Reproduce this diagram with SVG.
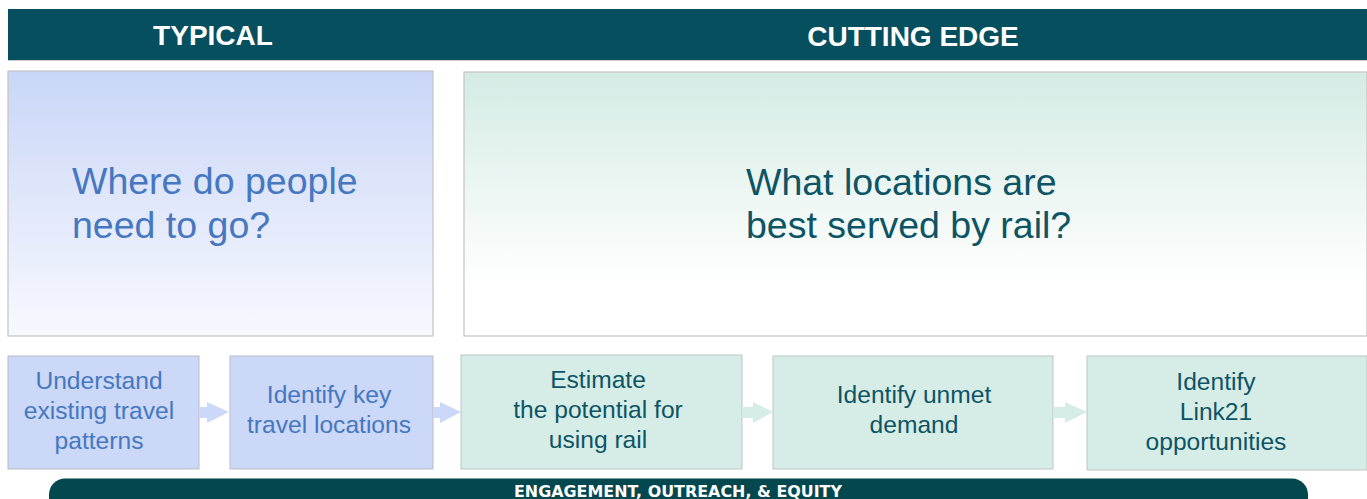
<svg xmlns="http://www.w3.org/2000/svg" width="1367" height="499" viewBox="0 0 1367 499">
<style>
.hdr{fill:#054f5f}
.hdrtxt{font-family:"Liberation Sans",Arial,sans-serif;font-weight:bold;font-size:28px;fill:#ffffff;text-anchor:middle}
.big{stroke:#c4c4c4;stroke-width:1.2}
.q{font-family:"Liberation Sans",Arial,sans-serif;font-size:37.5px}
.qb{fill:#4677c0}
.qt{fill:#0d5464}
.sb{fill:#cbd8f7;stroke:#b8bcc8;stroke-width:1}
.st{fill:#d6ece6;stroke:#bcc8c4;stroke-width:1}
.lbl{font-family:"Liberation Sans",Arial,sans-serif;font-size:24.6px;text-anchor:middle}
.arb{fill:#cbd8f7}
.art{fill:#d6ece6}
.bar{fill:#03474f}
.bartxt{font-family:"DejaVu Sans","Liberation Sans",sans-serif;font-weight:bold;font-size:15px;fill:#ffffff;text-anchor:middle}
</style>
<defs>
<linearGradient id="gb" x1="0" y1="0" x2="0" y2="1">
<stop offset="0" stop-color="#c9d6f7"/>
<stop offset="1" stop-color="#f8f9ff"/>
</linearGradient>
<linearGradient id="gt" x1="0" y1="0" x2="0" y2="1">
<stop offset="0" stop-color="#d4ebe4"/>
<stop offset="0.8" stop-color="#ffffff"/>
<stop offset="1" stop-color="#ffffff"/>
</linearGradient>
</defs>
<rect width="1367" height="499" fill="#ffffff"/>

<g id="header-typical">
<rect class="hdr" x="8" y="9" width="452" height="51"/>
<text class="hdrtxt" x="213" y="45">TYPICAL</text>
</g>
<g id="header-cutting-edge">
<rect class="hdr" x="459" y="9" width="908" height="51"/>
<text class="hdrtxt" x="913" y="46">CUTTING EDGE</text>
</g>
<line x1="8" y1="60.5" x2="1367" y2="60.5" stroke="#c8cccc" stroke-width="1"/>

<g id="question-typical">
<rect class="big" x="8" y="71" width="425" height="265" fill="url(#gb)"/>
<text class="q qb" x="72" y="194">Where do people</text>
<text class="q qb" x="72" y="238">need to go?</text>
</g>
<g id="question-cutting-edge">
<rect class="big" x="464" y="72" width="903" height="264" fill="url(#gt)"/>
<text class="q qt" x="746" y="195">What locations are</text>
<text class="q qt" x="746" y="238">best served by rail?</text>
</g>

<g id="step1">
<rect class="sb" x="8" y="356" width="191" height="113"/>
<text class="lbl qb" x="99" y="389">Understand</text>
<text class="lbl qb" x="99" y="419">existing travel</text>
<text class="lbl qb" x="99" y="449">patterns</text>
</g>
<g id="step2">
<rect class="sb" x="230" y="356" width="203" height="113"/>
<text class="lbl qb" x="329" y="403">Identify key</text>
<text class="lbl qb" x="329" y="433">travel locations</text>
</g>
<g id="step3">
<rect class="st" x="461" y="355" width="281" height="114"/>
<text class="lbl qt" x="598" y="388">Estimate</text>
<text class="lbl qt" x="598" y="418">the potential for</text>
<text class="lbl qt" x="598" y="448">using rail</text>
</g>
<g id="step4">
<rect class="st" x="773" y="356" width="280" height="113"/>
<text class="lbl qt" x="914" y="403">Identify unmet</text>
<text class="lbl qt" x="914" y="433">demand</text>
</g>
<g id="step5">
<rect class="st" x="1087" y="356" width="280" height="114"/>
<text class="lbl qt" x="1216" y="390">Identify</text>
<text class="lbl qt" x="1216" y="420">Link21</text>
<text class="lbl qt" x="1216" y="450">opportunities</text>
</g>

<g id="connectors">
<polygon class="arb" points="199,407 207,407 207,402 229,412 207,423 207,418 199,418"/>
<polygon class="arb" points="433,407 440,407 440,402 461,412 440,423 440,418 433,418"/>
<polygon class="art" points="742,407 753,407 753,402 773,412 753,423 753,418 742,418"/>
<polygon class="art" points="1053,407 1065,407 1065,402 1087,412 1065,423 1065,418 1053,418"/>
</g>

<g id="engagement-bar">
<rect x="49" y="479" width="1259" height="40" rx="16" fill="#dfe3e3"/>
<rect class="bar" x="49" y="478.5" width="1259" height="40" rx="16"/>
<text class="bartxt" x="678" y="497" textLength="328" lengthAdjust="spacingAndGlyphs">ENGAGEMENT, OUTREACH, &amp; EQUITY</text>
</g>
</svg>
